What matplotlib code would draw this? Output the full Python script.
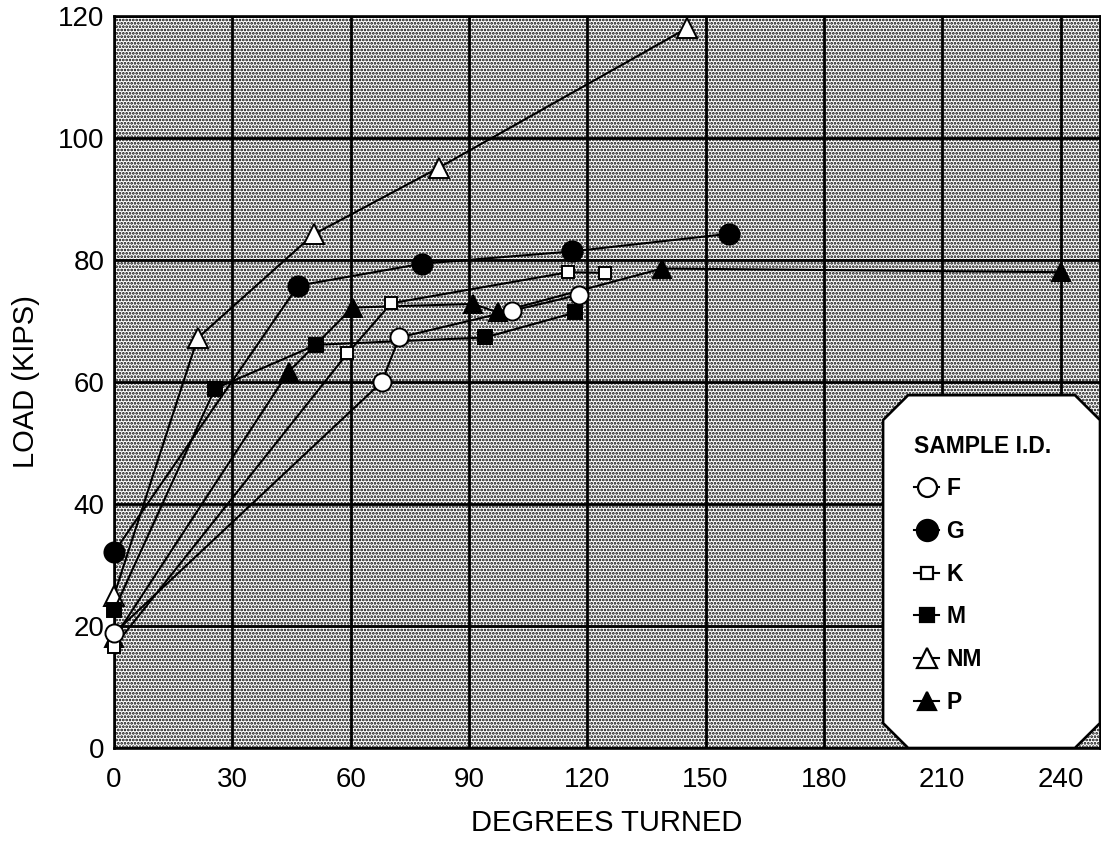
import matplotlib
matplotlib.use("Agg")
import matplotlib.pyplot as plt
from matplotlib.patches import Rectangle, Polygon
from matplotlib.lines import Line2D

plt.rcParams['font.family'] = ['Liberation Sans', 'DejaVu Sans']
plt.rcParams['hatch.color'] = 'black'
plt.rcParams['hatch.linewidth'] = 1.3

# degrees turned vs load (kips)
f_deg = [0, 67.9, 72.3, 101, 118]
f_load = [18.8, 60, 67.3, 71.7, 74.3]
g_deg = [0, 46.7, 78.2, 116, 156]
g_load = [32.1, 75.8, 79.4, 81.4, 84.3]
k_deg = [0, 59.2, 70.3, 115.2, 124.4]
k_load = [16.6, 64.7, 72.9, 78.0, 77.9]
m_deg = [0, 25.6, 51.3, 94.1, 117]
m_load = [22.6, 58.9, 66.1, 67.3, 71.4]
nm_deg = [0, 21.2, 50.6, 82.3, 145.3]
nm_load = [25.0, 67.2, 84.2, 95.1, 118.0]
p_deg = [0, 44.3, 60.5, 91, 97.4, 139, 240]
p_load = [18.0, 61.7, 72.2, 72.8, 71.4, 78.6, 78.0]

x_ticks = list(range(0, 241, 30))
y_ticks = list(range(0, 121, 20))

# marker style per sample: (marker, face, size)
styles = {
    'F': ('o', 'white', 13),
    'G': ('o', 'black', 14.5),
    'K': ('s', 'white', 8.5),
    'M': ('s', 'black', 9.5),
    'NM': ('^', 'white', 14),
    'P': ('^', 'black', 13),
}
series = [('P', p_deg, p_load), ('NM', nm_deg, nm_load), ('M', m_deg, m_load),
          ('K', k_deg, k_load), ('G', g_deg, g_load), ('F', f_deg, f_load)]

fig = plt.figure(figsize=(11.01, 8.52), dpi=100)
ax = fig.add_axes([114 / 1101, 104 / 852, 986 / 1101, 732 / 852])

# dotted screen behind the grid
ax.add_patch(Rectangle((0, 0), 1, 1, transform=ax.transAxes, facecolor='white',
                       edgecolor='black', lw=0, hatch='.....', zorder=0.1))

for name, xs, ys in series:
    mk, fc, ms = styles[name]
    ax.plot(xs, ys, color='black', lw=1.5, marker=mk, markersize=ms,
            markerfacecolor=fc, markeredgecolor='black', markeredgewidth=1.4,
            zorder=4, clip_on=False)

ax.set_xlim(0, 250)
ax.set_ylim(0, 120)
ax.set_xticks(x_ticks)
ax.set_yticks(y_ticks)
ax.set_axisbelow(True)
ax.grid(True, color='black', lw=2.0)
ax.tick_params(length=0, labelsize=20)
ax.tick_params(axis='x', pad=14)
ax.tick_params(axis='y', pad=7)
for sp in ax.spines.values():
    sp.set_linewidth(1.9)

ax.set_xlabel('DEGREES TURNED', fontsize=21, labelpad=11)
ax.set_ylabel('LOAD (KIPS)', fontsize=21, labelpad=13)

# octagon-ish legend box in the lower right corner
bl, br, bt, bb = 0.780, 1.0, 0.482, 0.0
dx, dy = 0.0254, 0.034
box = Polygon([(bl + dx, bb), (br - dx, bb), (br, bb + dy), (br, bt - dy),
               (br - dx, bt), (bl + dx, bt), (bl, bt - dy), (bl, bb + dy)],
              closed=True, transform=ax.transAxes, facecolor='white',
              edgecolor='black', lw=1.9, zorder=5)
ax.add_patch(box)

handles = []
for name in ['F', 'G', 'K', 'M', 'NM', 'P']:
    mk, fc, ms = styles[name]
    handles.append(Line2D([], [], color='black', lw=1.5, marker=mk,
                          markersize=ms * 1.05, markerfacecolor=fc,
                          markeredgecolor='black', markeredgewidth=1.6, label=name))
leg = ax.legend(handles=handles, title='SAMPLE I.D.', loc='upper left',
                bbox_to_anchor=(0.8115, 0.428), frameon=False, fontsize=16.5,
                title_fontproperties={'weight': 'bold', 'size': 16.5},
                prop={'weight': 'bold', 'size': 16.5}, handlelength=1.1,
                handletextpad=0.3, labelspacing=0.86, borderaxespad=0,
                borderpad=0, alignment='left')
leg._legend_box.sep = 14
leg.set_zorder(6)

fig.savefig('out.png', dpi=100)
